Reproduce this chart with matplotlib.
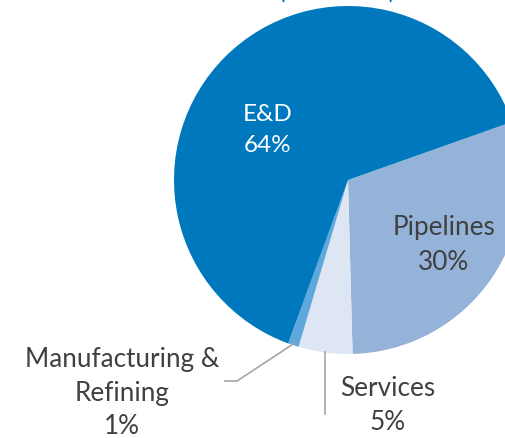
import numpy as np
import matplotlib
matplotlib.use("Agg")
import matplotlib.pyplot as plt

# ---------------------------------------------------------------------------
# Data (clockwise from the E&D / Pipelines boundary)
# ---------------------------------------------------------------------------
sectors = ["Pipelines", "Services", "Manufacturing &\nRefining", "E&D"]
shares = [30, 5, 1, 64]
colors = ["#95b3d8", "#dde6f2", "#5ea8dc", "#0078be"]

plt.rcParams["font.family"] = ["Lato", "DejaVu Sans"]

W, H = 506, 438
fig = plt.figure(figsize=(W / 100, H / 100), dpi=100)
ax = fig.add_axes([0, 0, 1, 1])

cx, cy, r = 348, H - 180, 174
wedges, _ = ax.pie(shares, colors=colors, startangle=19.5, counterclock=False,
                   center=(cx, cy), radius=r,
                   wedgeprops=dict(linewidth=0))
ax.set_xlim(0, W)
ax.set_ylim(0, H)
ax.set_aspect("auto")
ax.axis("off")

txt_dark = "#404040"
fs_in = 17.5    # E&D label
fs_out = 18.8   # other labels

# inside labels
ax.text(268, H - 130, f"{sectors[3]}\n{shares[3]}%", color="white",
        fontsize=fs_in, ha="center", va="center", linespacing=1.6)
ax.text(444, H - 245, f"{sectors[0]}\n{shares[0]}%", color=txt_dark,
        fontsize=fs_out, ha="center", va="center", linespacing=1.45)

# outside labels with leader lines
def edge_point(w, frac=1.0):
    ang = np.deg2rad((w.theta1 + w.theta2) / 2)
    return cx + frac * r * np.cos(ang), cy + frac * r * np.sin(ang)

line_kw = dict(color="#a6a6a6", linewidth=1.2)

# Services
sx, sy = edge_point(wedges[1], 0.995)
ax.plot([sx, sx], [sy, H - 414], **line_kw)
ax.text(388, H - 405, f"{sectors[1]}\n{shares[1]}%", color=txt_dark,
        fontsize=fs_out, ha="center", va="center", linespacing=1.45)

# Manufacturing & Refining
mx, my = edge_point(wedges[2], 0.99)
ax.plot([mx, 237, 225], [my, H - 381, H - 381], **line_kw)
ax.text(122, H - 393, f"{sectors[2]}\n{shares[2]}%", color=txt_dark,
        fontsize=fs_out, ha="center", va="center", linespacing=1.45)

# title (clipped at top of the crop, as in the reference)
ax.text(337, H + 1, "(% of total)", color="#0078be", fontsize=fs_in,
        ha="center", va="baseline")

fig.savefig("out.png", dpi=100)
